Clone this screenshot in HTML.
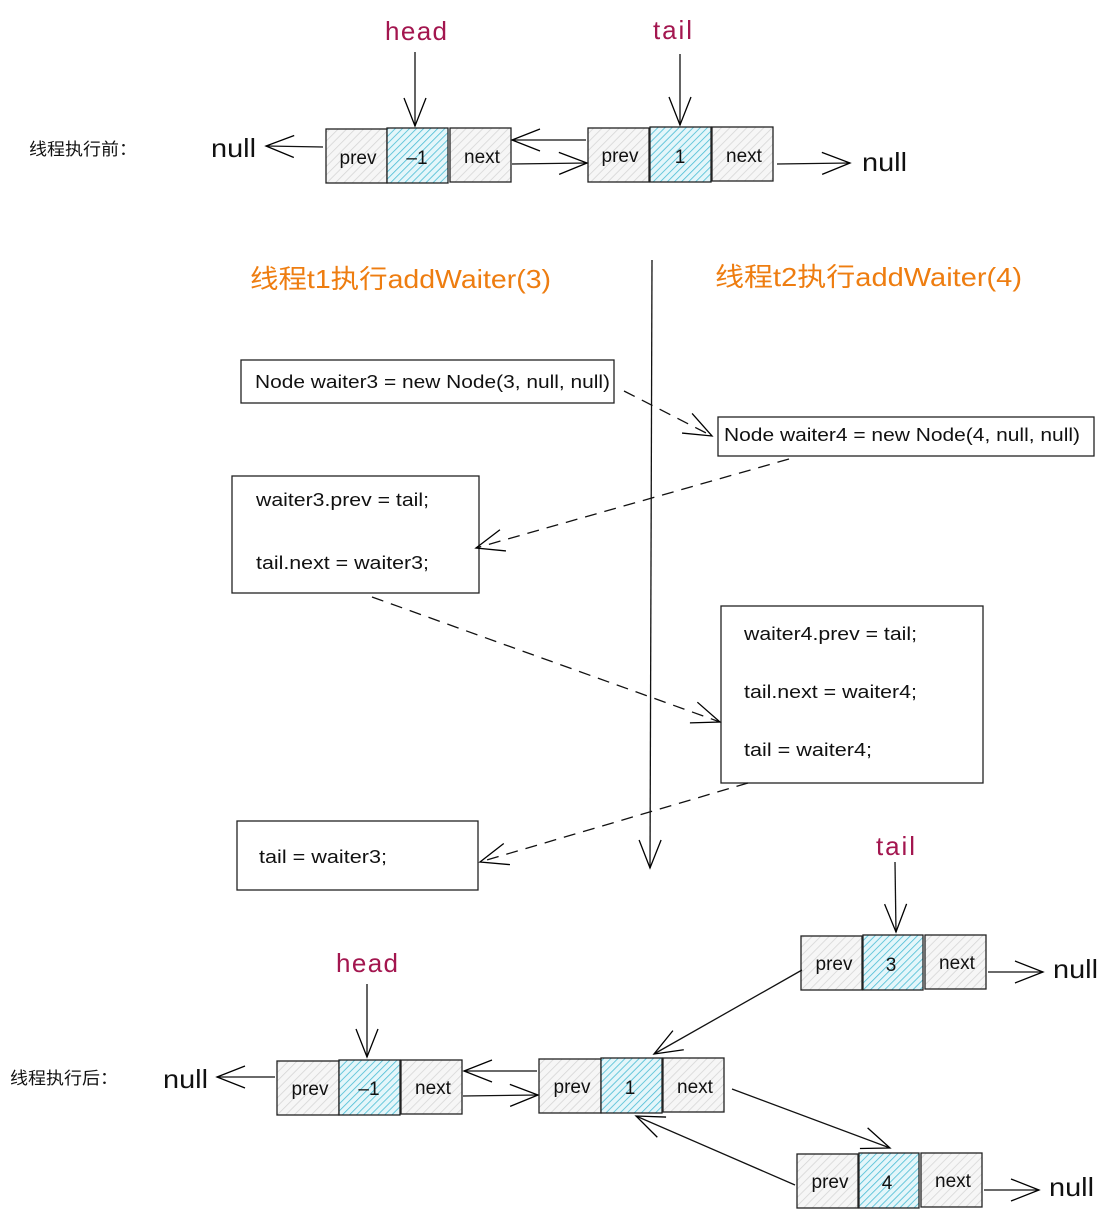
<!DOCTYPE html>
<html><head><meta charset="utf-8"><style>
html,body{margin:0;padding:0;background:#fff;}
svg{display:block;}
text{font-family:"Liberation Sans","Noto Sans CJK SC",sans-serif;}
</style></head><body>
<svg width="1109" height="1219" viewBox="0 0 1109 1219" xmlns="http://www.w3.org/2000/svg">
<defs>
<pattern id="g" width="6" height="6" patternUnits="userSpaceOnUse" patternTransform="rotate(45)">
<rect width="6" height="6" fill="#f6f6f6"/><line x1="0" y1="0" x2="0" y2="6" stroke="#d4d4d4" stroke-width="1.5"/></pattern>
<pattern id="b" width="5" height="5" patternUnits="userSpaceOnUse" patternTransform="rotate(45)">
<rect width="5" height="5" fill="#e4f6fa"/><line x1="0" y1="0" x2="0" y2="5" stroke="#49bcd4" stroke-width="1.6"/></pattern>
<marker id="a" markerUnits="userSpaceOnUse" markerWidth="40" markerHeight="30" refX="30" refY="12" orient="auto">
<path d="M2,1 L30,12 L2,23" fill="none" stroke="#000" stroke-width="1.3"/></marker>
</defs>
<g stroke="#222" stroke-width="1.3">
<rect x="326" y="129" width="61" height="54" fill="url(#g)"/><rect x="387" y="128" width="61" height="55" fill="url(#b)"/><rect x="450" y="128" width="61" height="54" fill="url(#g)"/>
<rect x="588" y="128" width="61" height="54" fill="url(#g)"/><rect x="650" y="127" width="61" height="55" fill="url(#b)"/><rect x="712" y="127" width="61" height="54" fill="url(#g)"/>
<rect x="277" y="1061" width="62" height="54" fill="url(#g)"/><rect x="339" y="1060" width="61" height="55" fill="url(#b)"/><rect x="401" y="1060" width="61" height="54" fill="url(#g)"/>
<rect x="539" y="1059" width="62" height="54" fill="url(#g)"/><rect x="601" y="1058" width="61" height="55" fill="url(#b)"/><rect x="663" y="1058" width="61" height="54" fill="url(#g)"/>
<rect x="801" y="936" width="61" height="54" fill="url(#g)"/><rect x="863" y="935" width="60" height="55" fill="url(#b)"/><rect x="925" y="935" width="61" height="54" fill="url(#g)"/>
<rect x="797" y="1154" width="61" height="54" fill="url(#g)"/><rect x="859" y="1153" width="60" height="55" fill="url(#b)"/><rect x="921" y="1153" width="61" height="54" fill="url(#g)"/>
</g>
<g font-size="19" fill="#111" text-anchor="middle">
<text x="358" y="164">prev</text><text x="417" y="164">–1</text><text x="482" y="163">next</text>
<text x="620" y="162">prev</text><text x="680" y="163">1</text><text x="744" y="162">next</text>
<text x="310" y="1095">prev</text><text x="369" y="1095">–1</text><text x="433" y="1094">next</text>
<text x="572" y="1093">prev</text><text x="630" y="1094">1</text><text x="695" y="1093">next</text>
<text x="834" y="970">prev</text><text x="891" y="971">3</text><text x="957" y="969">next</text>
<text x="830" y="1188">prev</text><text x="887" y="1189">4</text><text x="953" y="1187">next</text>
</g>
<g font-size="26" fill="#a3164f" lengthAdjust="spacingAndGlyphs">
<text x="385" y="40" textLength="62">head</text><text x="653" y="39" textLength="39">tail</text>
<text x="876" y="855" textLength="39">tail</text><text x="336" y="972" textLength="62">head</text>
</g>
<g font-size="26" fill="#111">
<text x="211" y="157" textLength="45" lengthAdjust="spacingAndGlyphs">null</text>
<text x="862" y="171" textLength="45" lengthAdjust="spacingAndGlyphs">null</text>
<text x="163" y="1088" textLength="45" lengthAdjust="spacingAndGlyphs">null</text>
<text x="1053" y="978" textLength="45" lengthAdjust="spacingAndGlyphs">null</text>
<text x="1049" y="1196" textLength="45" lengthAdjust="spacingAndGlyphs">null</text>
</g>
<g font-size="17" fill="#111">
<text x="29" y="155" textLength="108" lengthAdjust="spacingAndGlyphs">线程执行前：</text>
<text x="10" y="1084" textLength="108" lengthAdjust="spacingAndGlyphs">线程执行后：</text>
</g>
<g font-size="26" fill="#ee7d10">
<text x="250" y="288" textLength="301" lengthAdjust="spacingAndGlyphs">线程t1执行addWaiter(3)</text>
<text x="715" y="286" textLength="307" lengthAdjust="spacingAndGlyphs">线程t2执行addWaiter(4)</text>
</g>
<g fill="#fff" stroke="#222" stroke-width="1.3">
<rect x="241" y="360" width="373" height="43"/>
<rect x="718" y="417" width="376" height="39"/>
<rect x="232" y="476" width="247" height="117"/>
<rect x="721" y="606" width="262" height="177"/>
<rect x="237" y="821" width="241" height="69"/>
</g>
<g font-size="18" fill="#111">
<text x="255" y="388" textLength="355" lengthAdjust="spacingAndGlyphs">Node waiter3 = new Node(3, null, null)</text>
<text x="724" y="441" textLength="356" lengthAdjust="spacingAndGlyphs">Node waiter4 = new Node(4, null, null)</text>
<text x="256" y="506" textLength="173" lengthAdjust="spacingAndGlyphs">waiter3.prev = tail;</text>
<text x="256" y="569" textLength="173" lengthAdjust="spacingAndGlyphs">tail.next = waiter3;</text>
<text x="744" y="640" textLength="173" lengthAdjust="spacingAndGlyphs">waiter4.prev = tail;</text>
<text x="744" y="698" textLength="173" lengthAdjust="spacingAndGlyphs">tail.next = waiter4;</text>
<text x="744" y="756" textLength="128" lengthAdjust="spacingAndGlyphs">tail = waiter4;</text>
<text x="259" y="863" textLength="128" lengthAdjust="spacingAndGlyphs">tail = waiter3;</text>
</g>
<g fill="none" stroke="#111" stroke-width="1.3" marker-end="url(#a)">
<line x1="415" y1="52" x2="415" y2="126"/>
<line x1="680" y1="54" x2="680" y2="125"/>
<line x1="323" y1="147" x2="266" y2="146"/>
<line x1="586" y1="140" x2="512" y2="140"/>
<line x1="512" y1="164" x2="587" y2="163"/>
<line x1="777" y1="164" x2="850" y2="163"/>
<line x1="652" y1="260" x2="650" y2="868"/>
<line x1="895" y1="862" x2="896" y2="932"/>
<line x1="367" y1="984" x2="367" y2="1057"/>
<line x1="275" y1="1077" x2="217" y2="1077"/>
<line x1="537" y1="1071" x2="464" y2="1071"/>
<line x1="463" y1="1096" x2="538" y2="1095"/>
<line x1="802" y1="970" x2="654" y2="1054"/>
<line x1="732" y1="1089" x2="890" y2="1148"/>
<line x1="795" y1="1185" x2="636" y2="1116"/>
<line x1="988" y1="972" x2="1043" y2="972"/>
<line x1="984" y1="1190" x2="1039" y2="1190"/>
</g>
<g fill="none" stroke="#111" stroke-width="1.3" stroke-dasharray="12,8" marker-end="url(#a)">
<line x1="624" y1="391" x2="712" y2="436"/>
<line x1="789" y1="459" x2="476" y2="548"/>
<line x1="372" y1="597" x2="720" y2="722"/>
<line x1="748" y1="783" x2="480" y2="862"/>
</g>
</svg>
</body></html>
